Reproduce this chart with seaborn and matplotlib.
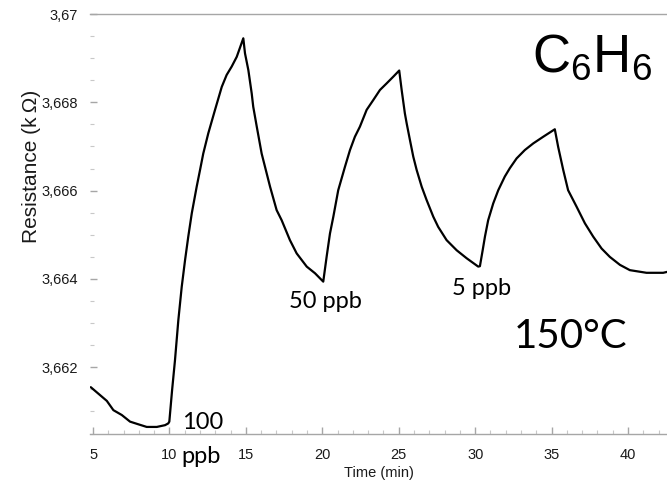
import matplotlib
matplotlib.use("Agg")
import matplotlib.pyplot as plt
from matplotlib.ticker import FixedLocator, MultipleLocator, FuncFormatter
import pandas as pd
import seaborn as sns

# Sensor response of the film to benzene pulses at 150 °C
time_min = [
    # baseline before the first pulse
    4.85, 5.02, 5.46, 5.90, 6.33, 6.88, 7.42, 7.96, 8.51, 9.17, 9.71, 9.92, 9.99,
    # 100 ppb pulse
    10.17, 10.36, 10.58, 10.80, 11.02, 11.23, 11.46, 11.78, 12.00, 12.21, 12.54,
    12.98, 13.42, 13.74, 14.07, 14.40, 14.83,
    14.94, 15.16, 15.38, 15.48, 15.71, 16.03, 16.36, 16.58, 17.01, 17.34, 17.88,
    18.32, 18.98, 19.52, 20.06,
    # 50 ppb pulse
    20.28, 20.50, 20.72, 21.04, 21.48, 21.81, 22.13, 22.46, 22.90, 23.33, 23.77,
    24.21, 24.64, 25.03,
    25.19, 25.40, 25.52, 25.73, 25.95, 26.17, 26.50, 26.82, 27.26, 27.58, 28.13,
    28.79, 29.44, 30.20,
    # 5 ppb pulse
    30.31, 30.49, 30.64, 30.85, 31.18, 31.51, 31.94, 32.27, 32.71, 33.25, 33.80,
    34.45, 35.21,
    35.43, 35.76, 36.08, 36.63, 37.18, 37.72, 38.27, 38.81, 39.47, 40.12, 41.21,
    42.30, 42.55,
]
resistance_kohm = [
    3.66155, 3.66150, 3.66137, 3.66124, 3.66103, 3.66092, 3.66077, 3.66071, 3.66065,
    3.66065, 3.66069, 3.66073, 3.66077,
    3.66148, 3.66216, 3.66307, 3.66382, 3.66443, 3.66496, 3.66549, 3.66609, 3.66647,
    3.66684, 3.66730, 3.66783, 3.66835, 3.66862, 3.66881, 3.66903, 3.66945,
    3.66911, 3.66873, 3.66820, 3.66790, 3.66745, 3.66684, 3.66639, 3.66609, 3.66556,
    3.66533, 3.66488, 3.66458, 3.66428, 3.66413, 3.66394,
    3.66450, 3.66503, 3.66541, 3.66601, 3.66654, 3.66692, 3.66722, 3.66745, 3.66783,
    3.66805, 3.66828, 3.66843, 3.66858, 3.66872,
    3.66828, 3.66775, 3.66752, 3.66715, 3.66677, 3.66647, 3.66609, 3.66579, 3.66541,
    3.66518, 3.66488, 3.66465, 3.66447, 3.66428,
    3.66429, 3.66465, 3.66496, 3.66533, 3.66571, 3.66601, 3.66632, 3.66651, 3.66673,
    3.66692, 3.66707, 3.66722, 3.66739,
    3.66699, 3.66647, 3.66601, 3.66564, 3.66526, 3.66496, 3.66469, 3.66450, 3.66432,
    3.66420, 3.66414, 3.66414, 3.66416,
]

x_ticks = [5, 10, 15, 20, 25, 30, 35, 40]
y_ticks = [3.662, 3.664, 3.666, 3.668, 3.670]
y_tick_labels = ["3,662", "3,664", "3,666", "3,668", "3,67"]

dose_labels = ["100", "ppb", "50 ppb", "5 ppb"]
temperature_label = "150°C"
gas_label = r"C$_\mathregular{6}$H$_\mathregular{6}$"

sns.set_theme(style="white")
plt.rcParams["font.family"] = ["Liberation Sans", "DejaVu Sans"]
plt.rcParams["mathtext.fontset"] = "custom"
plt.rcParams["mathtext.rm"] = "Liberation Sans"

df = pd.DataFrame({"Time (min)": time_min, "Resistance": resistance_kohm})

fig = plt.figure(figsize=(6.67, 4.88), dpi=100)
ax = fig.add_axes([90 / 667, 1 - 434 / 488, 577 / 667, 420 / 488])

sns.lineplot(data=df, x="Time (min)", y="Resistance", ax=ax,
             color="black", linewidth=1.6, estimator=None, sort=False)

ax.set_xlim(4.8, 42.55)
ax.set_ylim(3.66049, 3.670)

# axis frame: grey top and bottom lines only
spine_grey = "#a6a6a6"
for side in ("left", "right"):
    ax.spines[side].set_visible(False)
for side in ("top", "bottom"):
    ax.spines[side].set_color(spine_grey)
    ax.spines[side].set_linewidth(1.0)

ax.xaxis.set_major_locator(FixedLocator(x_ticks))
ax.xaxis.set_minor_locator(MultipleLocator(1))
ax.yaxis.set_major_locator(FixedLocator(y_ticks))
ax.yaxis.set_minor_locator(MultipleLocator(0.0005))
ax.yaxis.set_major_formatter(FuncFormatter(
    lambda v, _: y_tick_labels[y_ticks.index(round(v, 3))] if round(v, 3) in y_ticks else ""))

ax.tick_params(axis="both", which="major", direction="in", length=5, width=1,
               color=spine_grey, labelsize=10.5, labelcolor="#1a1a1a")
ax.tick_params(axis="both", which="minor", direction="in", length=3, width=0.8,
               color="#c8c8c8")
ax.tick_params(axis="x", which="major", pad=10)
ax.tick_params(axis="y", which="major", pad=9)
ax.tick_params(left=True, bottom=True, which="both")

ax.set_xlabel("Time (min)", fontsize=10.5, color="#1a1a1a", labelpad=3)
ax.set_ylabel("")
fig.text(32 / 667, 1 - 166 / 488, "Resistance (k\u2009Ω)", rotation=90,
         ha="center", va="center", fontsize=15, color="#1a1a1a",
         family=["Liberation Sans", "DejaVu Sans"])

# concentration annotations next to each pulse
ann = dict(family=["Lato", "DejaVu Sans"], fontsize=17, color="black", va="baseline", ha="left")
ax.text(10.80, 3.66060, dose_labels[0], **ann)
ax.text(10.80, 3.65983, dose_labels[1], clip_on=False, **ann)
ax.text(17.85, 3.66334, dose_labels[2], **ann)
ax.text(28.50, 3.66364, dose_labels[3], **ann)

ax.text(32.50, 3.66244, temperature_label, family=["Lato", "DejaVu Sans"],
        fontsize=29, color="black", va="baseline", ha="left")
ax.text(33.70, 3.66869, gas_label, fontsize=38, color="black",
        va="baseline", ha="left")

fig.savefig("out.png", dpi=100)
